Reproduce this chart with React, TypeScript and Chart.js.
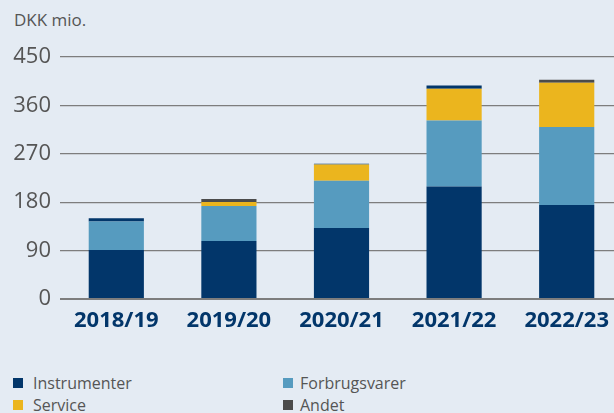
import React, { useEffect, useRef } from "react";
import { Chart, registerables } from "chart.js";

Chart.register(...registerables);

const categories = ["2018/19", "2019/20", "2020/21", "2021/22", "2022/23"];
const instrumenter = [91, 108, 132, 209, 175];
const forbrugsvarer = [53, 65, 88, 123, 145];
const service = [0, 7.5, 30, 59, 82];
const andet = [6, 5.5, 1.5, 6, 5.5];
const yTicks = [0, 90, 180, 270, 360, 450];

const legendItems = ["Instrumenter", "Forbrugsvarer", "Service", "Andet"];
const unitLabel = "DKK mio.";

const NAVY = "#02366a";
const LIGHT = "#569bbf";
const YELLOW = "#ebb51e";
const GRAY = "#4b4b4b";
const BG = "#e4ebf3";
const TEXT = "#555555";
const FONT = "'Open Sans', sans-serif";

const andetColors = [NAVY, GRAY, NAVY, NAVY, GRAY];
const legendColors = [NAVY, LIGHT, YELLOW, GRAY];

export default function App() {
  const ref = useRef<HTMLCanvasElement | null>(null);

  useEffect(() => {
    if (!ref.current) return;
    const chart = new Chart(ref.current, {
      type: "bar",
      data: {
        labels: categories,
        datasets: [
          { label: legendItems[0], data: instrumenter, backgroundColor: NAVY },
          { label: legendItems[1], data: forbrugsvarer, backgroundColor: LIGHT },
          { label: legendItems[2], data: service, backgroundColor: YELLOW },
          { label: legendItems[3], data: andet, backgroundColor: andetColors },
        ],
      },
      options: {
        animation: false,
        responsive: false,
        maintainAspectRatio: false,
        layout: { padding: { top: 57, left: 0, right: 0, bottom: 0 } },
        datasets: { bar: { categoryPercentage: 1, barPercentage: 0.49, borderWidth: 0 } },
        plugins: {
          legend: { display: false },
          tooltip: { enabled: false },
          title: { display: false },
        },
        scales: {
          x: {
            stacked: true,
            grid: { display: false, drawTicks: false },
            border: { display: false },
            ticks: {
              padding: 9,
              color: NAVY,
              font: { family: FONT, size: 22, weight: "bold" },
            },
            afterFit: (s: any) => {
              s.height = 46;
            },
          },
          y: {
            stacked: true,
            min: 0,
            max: 450,
            afterBuildTicks: (s: any) => {
              s.ticks = yTicks.map((v) => ({ value: v }));
            },
            grid: {
              drawTicks: false,
              color: "#7d7d7d",
              lineWidth: (ctx: any) => (ctx.tick && ctx.tick.value === 0 ? 2 : 1.2),
            },
            border: { display: false },
            ticks: {
              padding: 9,
              color: TEXT,
              font: { family: FONT, size: 22 },
            },
            afterFit: (s: any) => {
              s.width = 60;
            },
          },
        },
      },
    });
    return () => chart.destroy();
  }, []);

  return (
    <div
      style={{
        position: "fixed",
        left: 0,
        top: 0,
        width: 614,
        height: 413,
        overflow: "hidden",
        background: BG,
        fontFamily: FONT,
      }}
    >
      <div
        style={{
          position: "absolute",
          left: 14,
          top: 9.5,
          fontSize: 17,
          lineHeight: "20px",
          color: TEXT,
          whiteSpace: "nowrap",
        }}
      >
        {unitLabel}
      </div>
      <canvas
        ref={ref}
        width={623}
        height={345}
        style={{ position: "absolute", left: 0, top: 0, width: 623, height: 345 }}
      />
      {legendItems.map((name, i) => {
        const col = i === 0 || i === 2 ? 0 : 1;
        const row = i < 2 ? 0 : 1;
        const left = col === 0 ? 13 : 283;
        const top = row === 0 ? 373 : 395;
        return (
          <div
            key={name}
            style={{
              position: "absolute",
              left,
              top,
              display: "flex",
              alignItems: "center",
              height: 20,
              fontSize: 16,
              lineHeight: "20px",
              color: TEXT,
              whiteSpace: "nowrap",
            }}
          >
            <span
              style={{
                display: "inline-block",
                width: 10,
                height: 10,
                background: legendColors[i],
                marginRight: col === 0 ? 10 : 7,
              }}
            />
            <span>{name}</span>
          </div>
        );
      })}
    </div>
  );
}
